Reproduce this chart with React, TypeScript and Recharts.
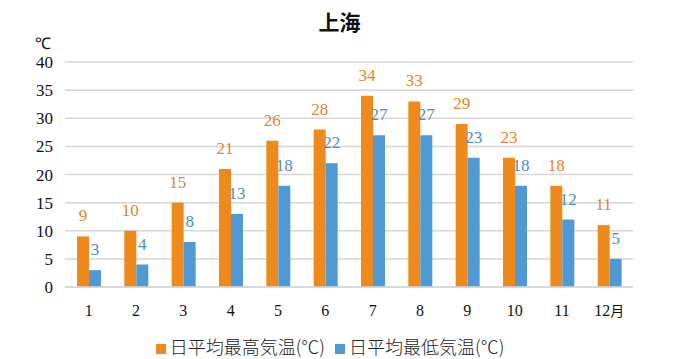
import { Bar, BarChart, CartesianGrid, LabelList, Legend, XAxis, YAxis } from "recharts";

const MONTHS = ["1", "2", "3", "4", "5", "6", "7", "8", "9", "10", "11", "12月"];
const HIGH_TEMPS = [9, 10, 15, 21, 26, 28, 34, 33, 29, 23, 18, 11];
const LOW_TEMPS = [3, 4, 8, 13, 18, 22, 27, 27, 23, 18, 12, 5];
const Y_TICKS = [0, 5, 10, 15, 20, 25, 30, 35, 40];

const ORANGE = "#EE8A1C";
const BLUE = "#4F9AD5";
const ORANGE_TEXT = "#E0852A";
const BLUE_TEXT = "#4A8CC6";
const GRID = "#D6D6D6";
const SERIF = "Liberation Serif";
const SANS = "Noto Sans CJK JP";

const data = MONTHS.map((m, i) => ({ month: m, high: HIGH_TEMPS[i], low: LOW_TEMPS[i] }));

function XTick({ x, y, payload }: any) {
  const v = String(payload.value);
  const num = v.replace("月", "");
  return (
    <text x={x} y={y} dy={15} textAnchor="middle" fill="#111" fontSize={16} style={{ fontFamily: SERIF }}>
      {num}
      {v.endsWith("月") && <tspan style={{ fontFamily: SANS }} fontSize={14}>月</tspan>}
    </text>
  );
}

function YTick({ x, y, payload }: any) {
  return (
    <text x={x} y={y} dy={6} textAnchor="end" fill="#111" fontSize={17} style={{ fontFamily: SERIF }}>
      {payload.value}
    </text>
  );
}

function makeLabel(color: string) {
  return ({ x, y, width, value }: any) => (
    <text
      x={Number(x) + Number(width) / 2}
      y={Number(y) - 15}
      textAnchor="middle"
      fill={color}
      fontSize={17}
      style={{ fontFamily: SERIF }}
    >
      {value}
    </text>
  );
}

export default function App() {
  return (
    <div style={{ position: "absolute", left: 0, top: 0, width: 679, height: 359, background: "#fff" }}>
      <div
        style={{
          position: "absolute",
          left: 0,
          top: 6,
          width: 679,
          textAlign: "center",
          fontFamily: SANS,
          fontWeight: 700,
          fontSize: 21,
          color: "#111",
        }}
      >
        上海
      </div>
      <div style={{ position: "absolute", left: 35, top: 32, fontFamily: SERIF, fontSize: 16, color: "#111" }}>℃</div>
      <BarChart
        width={679}
        height={359}
        data={data}
        margin={{ top: 62, right: 46, left: 0, bottom: 0 }}
        barGap={0}
        barSize={12}
      >
        <CartesianGrid vertical={false} stroke={GRID} strokeWidth={1.5} />
        <XAxis
          dataKey="month"
          tickLine={false}
          axisLine={{ stroke: GRID, strokeWidth: 1.5 }}
          tick={<XTick />}
          tickMargin={8}
          height={46}
        />
        <YAxis
          domain={[0, 40]}
          ticks={Y_TICKS}
          tickLine={false}
          axisLine={false}
          tick={<YTick />}
          tickMargin={6}
          width={65}
        />
        <Legend
          verticalAlign="bottom"
          align="center"
          iconType="square"
          iconSize={10}
          itemSorter="dataKey"
          wrapperStyle={{ fontFamily: SANS, fontSize: 18, color: "#222", left: 140, width: 390 }}
          formatter={(value) => <span style={{ color: "#222", fontWeight: 300 }}>{value}</span>}
        />
        <Bar dataKey="high" name="日平均最高気温(℃)" fill={ORANGE} isAnimationActive={false}>
          <LabelList dataKey="high" content={makeLabel(ORANGE_TEXT)} />
        </Bar>
        <Bar dataKey="low" name="日平均最低気温(℃)" fill={BLUE} isAnimationActive={false}>
          <LabelList dataKey="low" content={makeLabel(BLUE_TEXT)} />
        </Bar>
      </BarChart>
    </div>
  );
}
